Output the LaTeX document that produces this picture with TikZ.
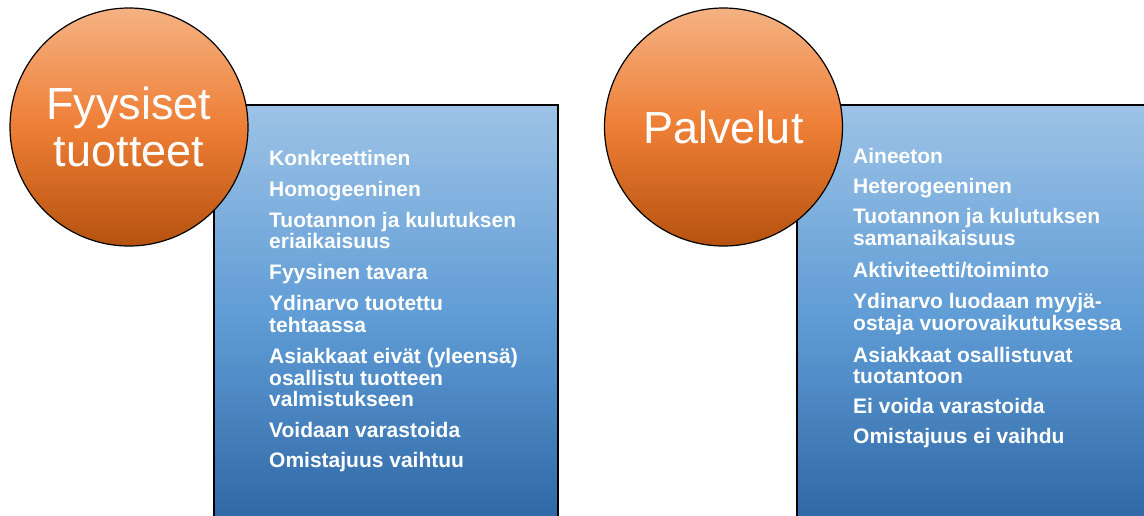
\documentclass[tikz,border=0pt]{standalone}
\usepackage{fontspec}
\setmainfont{Liberation Sans}
\definecolor{orTop}{HTML}{F5B283}
\definecolor{orMid}{HTML}{EE7E35}
\definecolor{orBot}{HTML}{B5520F}
\definecolor{blTop}{HTML}{9DC3E6}
\definecolor{blMid}{HTML}{5E9BD5}
\definecolor{blBot}{HTML}{2A63A0}
\begin{document}
\begin{tikzpicture}[x=1pt,y=1pt,
  panel/.style={draw=black, line width=1.6pt, anchor=north west, inner sep=0pt,
    minimum height=436, top color=blTop, bottom color=blBot, middle color=blMid},
  badge/.style={circle, draw=black, line width=1.2pt, minimum size=238, inner sep=0pt,
    top color=orTop, bottom color=orBot, middle color=orMid,
    text=white, align=center, font=\fontsize{45}{47}\selectfont},
  entry/.style={anchor=base west, inner sep=0pt, text=white,
    font=\bfseries\fontsize{21}{25}\selectfont}]
\useasboundingbox (0,0) rectangle (1144,-515);
\clip (0,0) rectangle (1144,-515);

% blue panels (behind the circles)
\node[panel, minimum width=344] (goodsbox) at (213,-104) {};
\node[panel, minimum width=370] (servbox) at (796,-104) {};

% orange headline circles
\node[badge] (goods) at (129,-127) {Fyysiset\\tuotteet};
\node[badge] (serv) at (723.5,-127) {Palvelut};

% characteristics of physical goods
\foreach \y/\t [count=\i] in {
  165/Konkreettinen,
  196/Homogeeninen,
  227/Tuotannon ja kulutuksen,
  248.5/eriaikaisuus,
  279/Fyysinen tavara,
  310.5/Ydinarvo tuotettu,
  332/tehtaassa,
  363/Asiakkaat eivät (yleensä),
  385/osallistu tuotteen,
  406.5/valmistukseen,
  437/Voidaan varastoida,
  467.5/Omistajuus vaihtuu}
  \node[entry] (g\i) at (269,-\y) {\t};

% characteristics of services
\foreach \y/\t [count=\i] in {
  163/Aineeton,
  193/Heterogeeninen,
  223/Tuotannon ja kulutuksen,
  245/samanaikaisuus,
  277/{Aktiviteetti/toiminto},
  308/Ydinarvo luodaan myyjä-,
  330/ostaja vuorovaikutuksessa,
  362/Asiakkaat osallistuvat,
  383/tuotantoon,
  413/Ei voida varastoida,
  443/Omistajuus ei vaihdu}
  \node[entry] (s\i) at (853,-\y) {\t};
\end{tikzpicture}
\end{document}
